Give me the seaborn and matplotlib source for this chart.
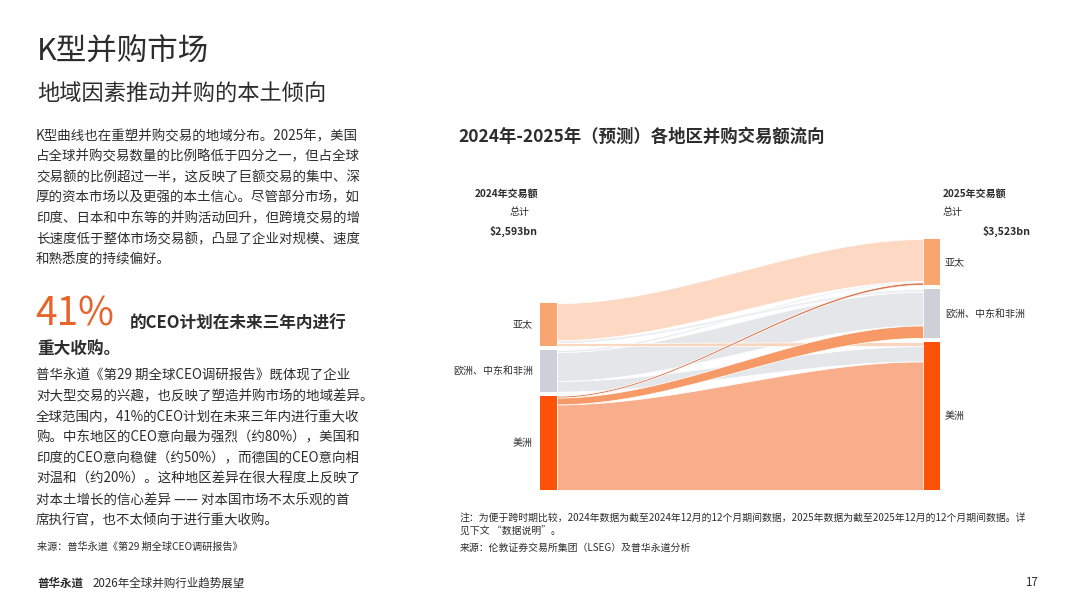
import numpy as np
import matplotlib.pyplot as plt
import seaborn as sns

# regions and flow values (bn USD)
regions = ['亚太', '欧洲、中东和非洲', '美洲']
flow_src = [0, 0, 0, 1, 1, 1, 2, 2, 2]
flow_dst = [0, 1, 2, 0, 1, 2, 0, 1, 2]
value_2024 = [540, 40, 40, 30, 420, 155, 25, 100, 1243]
value_2025 = [610, 40, 60, 20, 490, 220, 35, 180, 1868]
total_2024 = '$2,593bn'
total_2025 = '$3,523bn'

sns.set_theme(style='white')
plt.rcParams['font.family'] = ['Noto Sans CJK SC', 'DejaVu Sans']

W, H = 1080, 608
fig = plt.figure(figsize=(10.8, 6.08), dpi=100)
fig.patch.set_facecolor('white')
TXT = '#2d2d2d'


def put(x, y, s, size, **kw):
    kw.setdefault('color', TXT)
    kw.setdefault('va', 'center')
    fig.text(x / W, 1 - y / H, s, fontsize=size, **kw)


# ---- left column text ----
put(37, 52, 'K型并购市场', 22, fontweight='light')
put(37, 94, '地域因素推动并购的本土倾向', 16)

para1 = ['K型曲线也在重塑并购交易的地域分布。2025年，美国',
         '占全球并购交易数量的比例略低于四分之一，但占全球',
         '交易额的比例超过一半，这反映了巨额交易的集中、深',
         '厚的资本市场以及更强的本土信心。尽管部分市场，如',
         '印度、日本和中东等的并购活动回升，但跨境交易的增',
         '长速度低于整体市场交易额，凸显了企业对规模、速度',
         '和熟悉度的持续偏好。']
for i, line in enumerate(para1):
    put(36, 136 + i * 20.6, line, 9.7)

put(35, 314, '41%', 28, color='#e8622a', fontweight='light')
put(130, 324, '的CEO计划在未来三年内进行', 12, fontweight='bold')
put(37, 350, '重大收购。', 12, fontweight='bold')

para2 = ['普华永道《第29 期全球CEO调研报告》既体现了企业',
         '对大型交易的兴趣，也反映了塑造并购市场的地域差异。',
         '全球范围内，41%的CEO计划在未来三年内进行重大收',
         '购。中东地区的CEO意向最为强烈（约80%），美国和',
         '印度的CEO意向稳健（约50%），而德国的CEO意向相',
         '对温和（约20%）。这种地区差异在很大程度上反映了',
         '对本土增长的信心差异 —— 对本国市场不太乐观的首',
         '席执行官，也不太倾向于进行重大收购。']
for i, line in enumerate(para2):
    put(36, 376 + i * 20.6, line, 9.7)

put(37, 547, '来源：普华永道《第29 期全球CEO调研报告》', 7.3)

# ---- footer ----
put(37, 583, '普华永道', 8.3, fontweight='bold')
put(93, 583, '2026年全球并购行业趋势展望', 8.3)
put(1038, 583, '17', 8.3, ha='right')

# ---- chart title / headers ----
put(458, 137, '2024年-2025年（预测）各地区并购交易额流向', 12.5, fontweight='bold')
put(538, 194, '2024年交易额', 7.2, fontweight='bold', ha='right')
put(530, 212, '总计', 7.2, ha='right')
put(538, 231, total_2024, 7.6, fontweight='bold', ha='right')
put(943, 194, '2025年交易额', 7.2, fontweight='bold')
put(943, 212, '总计', 7.2)
put(1031, 231, total_2025, 7.6, fontweight='bold', ha='right')

# ---- notes ----
put(460, 518, '注：为便于跨时期比较，2024年数据为截至2024年12月的12个月期间数据，2025年数据为截至2025年12月的12个月期间数据。详', 7.1)
put(460, 532, '见下文 “数据说明”。', 7.1)
put(460, 548, '来源：伦敦证券交易所集团（LSEG）及普华永道分析', 7.1)

# ---- sankey ----
gap = 60
node_w = 17
x_right = 400 - node_w
ax = fig.add_axes([540 / W, (H - 490) / H, 400 / W, 251 / H])
ax.set_xlim(0, 400)
ax.set_ylim(0, sum(value_2025) + 2 * gap)
ax.axis('off')

node_colors = ['#f9a56f', '#cdd0d6', '#fd5108']


def node_tops(vals, side):
    tots = [0, 0, 0]
    for s, d, v in zip(flow_src, flow_dst, vals):
        tots[s if side == 'L' else d] += v
    tops, y = [0, 0, 0], sum(tots) + 2 * gap
    for k in range(3):
        tops[k] = y
        y -= tots[k] + gap
    return tops, tots


topsL, totL = node_tops(value_2024, 'L')
topsR, totR = node_tops(value_2025, 'R')

for k in range(3):
    ax.bar(0, totL[k], bottom=topsL[k] - totL[k], width=node_w, align='edge',
           color=node_colors[k], linewidth=0)
    ax.bar(x_right, totR[k], bottom=topsR[k] - totR[k], width=node_w, align='edge',
           color=node_colors[k], linewidth=0)
    ax.text(-7, topsL[k] - totL[k] / 2, regions[k], ha='right', va='center',
            fontsize=7.2, color=TXT)
    ax.text(400 + 5, topsR[k] - totR[k] / 2, regions[k], ha='left', va='center',
            fontsize=7.2, color=TXT)

# stacking offsets of each flow at both ends
offL = list(topsL)
offR = list(topsR)
posL, posR = {}, {}
for i in range(len(flow_src)):  # source nodes: ordered by target
    s = flow_src[i]
    posL[i] = offL[s]
    offL[s] -= value_2024[i]
for d in range(3):  # target nodes: ordered by source
    for i in range(len(flow_src)):
        if flow_dst[i] == d:
            posR[i] = offR[d]
            offR[d] -= value_2025[i]

flow_colors = {(0, 0): '#fdd6bf', (0, 1): '#eceef0', (0, 2): '#fbd3bb',
               (1, 0): '#e6e8eb', (1, 1): '#e3e5e8', (1, 2): '#e3e5e8',
               (2, 0): '#d8714a', (2, 1): '#f7955f', (2, 2): '#f9aa85'}
draw_order = [0, 4, 8, 5, 3, 1, 2, 7, 6]

xs = np.linspace(node_w, x_right, 200)
t = (xs - node_w) / (x_right - node_w)
ease = 3 * t ** 2 - 2 * t ** 3
for i in draw_order:
    top = posL[i] + (posR[i] - posL[i]) * ease
    bl = posL[i] - value_2024[i]
    br = posR[i] - value_2025[i]
    bot = bl + (br - bl) * ease
    ax.fill_between(xs, bot, top, color=flow_colors[(flow_src[i], flow_dst[i])],
                    edgecolor='white', linewidth=0.6, alpha=0.95)

fig.savefig('out.png', dpi=100, facecolor='white')
